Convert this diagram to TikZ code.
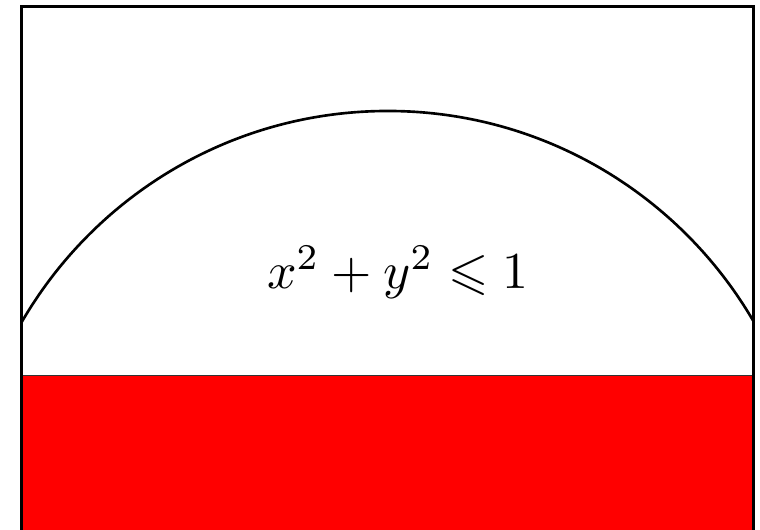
\documentclass[tikz,border=0pt]{standalone}
\usepackage{amssymb}
\usetikzlibrary{positioning}
\definecolor{DiskRed}{RGB}{255,0,0}
\tikzset{
  disk/frame/.style={draw=black, line width=1.7pt},
  disk/band/.style={fill=DiskRed, draw=black!80, line width=0.4pt},
  disk/arc/.style={draw=black, line width=1.5pt},
  disk/label/.style={scale=2.95, text=black}
}

\begin{document}
\begin{tikzpicture}[x=8.46cm,y=8.46cm]
  \useasboundingbox (-0.917,0.0095) rectangle (0.880,1.2624);
  % lower band
  \fill[disk/band] (-0.865,-0.1) rectangle (0.865,0.376);
  % unit circle, kept inside the frame
  \begin{scope}
    \clip (-0.865,-0.1) rectangle (0.865,1.246);
    \draw[disk/arc] (0,0) circle (1);
  \end{scope}
  \draw[disk/frame] (-0.865,-0.1) rectangle (0.865,1.246);
  \node[disk/label] (ineq) at (0.024,0.618) {$x^2+y^2\leqslant 1$};
\end{tikzpicture}
\end{document}
